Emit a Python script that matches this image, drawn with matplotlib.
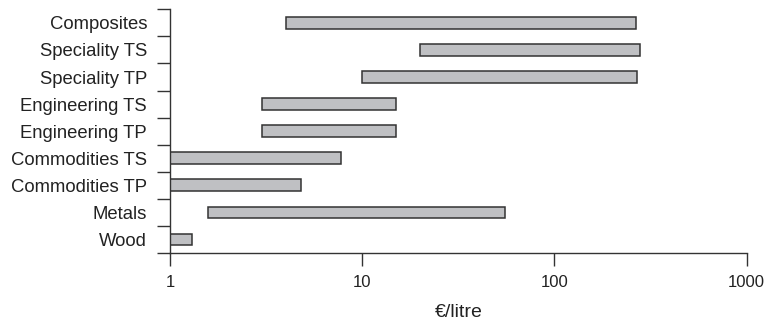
import matplotlib
matplotlib.use("Agg")
import matplotlib.pyplot as plt
from matplotlib.ticker import FixedLocator, NullLocator

plt.rcParams['font.family'] = ['Liberation Sans', 'DejaVu Sans']

# categories from bottom to top
materials = ["Wood", "Metals", "Commodities TP", "Commodities TS",
             "Engineering TP", "Engineering TS", "Speciality TP",
             "Speciality TS", "Composites"]
low = [1.0, 1.58, 1.0, 1.0, 3.0, 3.0, 10.0, 20.0, 4.0]
high = [1.3, 55.0, 4.8, 7.8, 15.0, 15.0, 270.0, 280.0, 266.0]

fig = plt.figure(figsize=(7.69, 3.23), dpi=100)
ax = fig.add_axes([0.221, 0.217, 0.750, 0.754])

ypos = list(range(len(materials)))
widths = [h - l for l, h in zip(low, high)]
ax.barh(ypos, widths, left=low, height=0.43, color="#bfc0c3",
        edgecolor="#333333", linewidth=1.1)

ax.set_xscale("log")
ax.set_xlim(1, 1000)
ax.set_ylim(-0.5, len(materials) - 0.5)
ax.xaxis.set_major_locator(FixedLocator([1, 10, 100, 1000]))
ax.xaxis.set_minor_locator(NullLocator())
ax.set_xticklabels(["1", "10", "100", "1000"])

# tick marks on category boundaries, labels at centres
ax.yaxis.set_major_locator(FixedLocator([i - 0.5 for i in range(len(materials) + 1)]))
ax.yaxis.set_major_formatter(plt.NullFormatter())
ax.yaxis.set_minor_locator(FixedLocator(ypos))
ax.set_yticklabels(materials, minor=True)

ax.tick_params(axis="y", which="major", length=9.5, width=1.0, color="#333333")
ax.tick_params(axis="y", which="minor", length=0, pad=16.5, labelsize=13.3, labelcolor="#222222")
ax.tick_params(axis="x", which="major", length=9, width=1.0, pad=7, color="#333333",
               labelsize=12, labelcolor="#222222")

for s in ["top", "right"]:
    ax.spines[s].set_visible(False)
for s in ["left", "bottom"]:
    ax.spines[s].set_linewidth(1.0)
    ax.spines[s].set_color("#333333")

ax.set_xlabel("€/litre", fontsize=14, color="#222222", labelpad=10)

fig.savefig("out.png", dpi=100)
